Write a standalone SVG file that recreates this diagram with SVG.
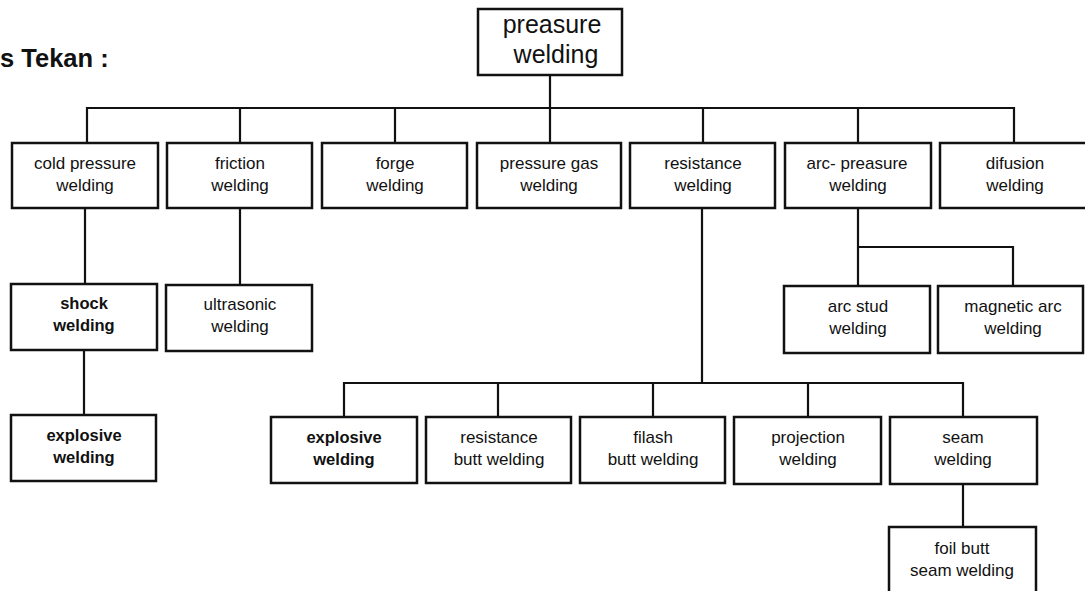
<svg xmlns="http://www.w3.org/2000/svg" width="1085" height="591" viewBox="0 0 1085 591">
<style>
.b{fill:#fff;stroke:#111;stroke-width:2.5}
.t{font-family:"Liberation Sans",Arial,sans-serif;font-size:17px;fill:#111;text-anchor:middle}
.bd{font-weight:bold;font-size:16.5px}
.c{fill:none;stroke:#111;stroke-width:2.2}
</style>
<rect width="1085" height="591" fill="#fff"/>
<text x="0" y="67" font-family="Liberation Sans,Arial,sans-serif" font-size="25.5" font-weight="bold" fill="#111">s Tekan :</text>
<g id="connectors">
<path class="c" d="M550 75V143 M87 143V108H1014V143 M240 108V143 M395 108V143 M703 108V143 M858 108V143"/>
<path class="c" d="M85 208V284 M84 350V415 M240 208V284"/>
<path class="c" d="M858 208V286 M858 247H1013V286"/>
<path class="c" d="M702 208V383 M344 417V383H963V417 M498 383V417 M653 383V417 M808 383V417 M963 484V527"/>
</g>
<g id="n-root"><rect class="b" x="478" y="9" width="144" height="66"/><text class="t" style="font-size:25px" x="552" y="33">preasure</text><text class="t" style="font-size:25px" x="556" y="63">welding</text></g>
<g id="n-cold"><rect class="b" x="12" y="143" width="146" height="65"/><text class="t" x="85" y="169">cold pressure</text><text class="t" x="85" y="191">welding</text></g>
<g id="n-friction"><rect class="b" x="167" y="143" width="145" height="65"/><text class="t" x="240" y="169">friction</text><text class="t" x="240" y="191">welding</text></g>
<g id="n-forge"><rect class="b" x="322" y="143" width="145" height="65"/><text class="t" x="395" y="169">forge</text><text class="t" x="395" y="191">welding</text></g>
<g id="n-pgas"><rect class="b" x="477" y="143" width="144" height="65"/><text class="t" x="549" y="169">pressure gas</text><text class="t" x="549" y="191">welding</text></g>
<g id="n-resist"><rect class="b" x="630" y="143" width="145" height="65"/><text class="t" x="703" y="169">resistance</text><text class="t" x="703" y="191">welding</text></g>
<g id="n-arcp"><rect class="b" x="785" y="143" width="146" height="65"/><text class="t" x="857" y="169">arc- preasure</text><text class="t" x="858" y="191">welding</text></g>
<g id="n-difusion"><rect class="b" x="940" y="143" width="150" height="65"/><text class="t" x="1015" y="169">difusion</text><text class="t" x="1015" y="191">welding</text></g>
<g id="n-shock"><rect class="b" x="11" y="284" width="146" height="66"/><text class="t bd" x="84" y="309">shock</text><text class="t bd" x="84" y="331">welding</text></g>
<g id="n-ultra"><rect class="b" x="166" y="285" width="146" height="66"/><text class="t" x="240" y="310">ultrasonic</text><text class="t" x="240" y="332">welding</text></g>
<g id="n-expl1"><rect class="b" x="11" y="415" width="145" height="66"/><text class="t bd" x="84" y="441">explosive</text><text class="t bd" x="84" y="463">welding</text></g>
<g id="n-arcstud"><rect class="b" x="784" y="286" width="146" height="67"/><text class="t" x="858" y="312">arc stud</text><text class="t" x="858" y="334">welding</text></g>
<g id="n-magarc"><rect class="b" x="938" y="286" width="145" height="67"/><text class="t" x="1013" y="312">magnetic arc</text><text class="t" x="1013" y="334">welding</text></g>
<g id="n-expl2"><rect class="b" x="271" y="417" width="146" height="66"/><text class="t bd" x="344" y="443">explosive</text><text class="t bd" x="344" y="465">welding</text></g>
<g id="n-rbutt"><rect class="b" x="426" y="417" width="145" height="66"/><text class="t" x="499" y="443">resistance</text><text class="t" x="499" y="465">butt welding</text></g>
<g id="n-filash"><rect class="b" x="580" y="417" width="145" height="66"/><text class="t" x="653" y="443">filash</text><text class="t" x="653" y="465">butt welding</text></g>
<g id="n-proj"><rect class="b" x="734" y="417" width="147" height="67"/><text class="t" x="808" y="443">projection</text><text class="t" x="808" y="465">welding</text></g>
<g id="n-seam"><rect class="b" x="890" y="417" width="147" height="67"/><text class="t" x="963" y="443">seam</text><text class="t" x="963" y="465">welding</text></g>
<g id="n-foil"><rect class="b" x="889" y="527" width="147" height="70"/><text class="t" x="962" y="554">foil butt</text><text class="t" x="962" y="576">seam welding</text></g>
</svg>
